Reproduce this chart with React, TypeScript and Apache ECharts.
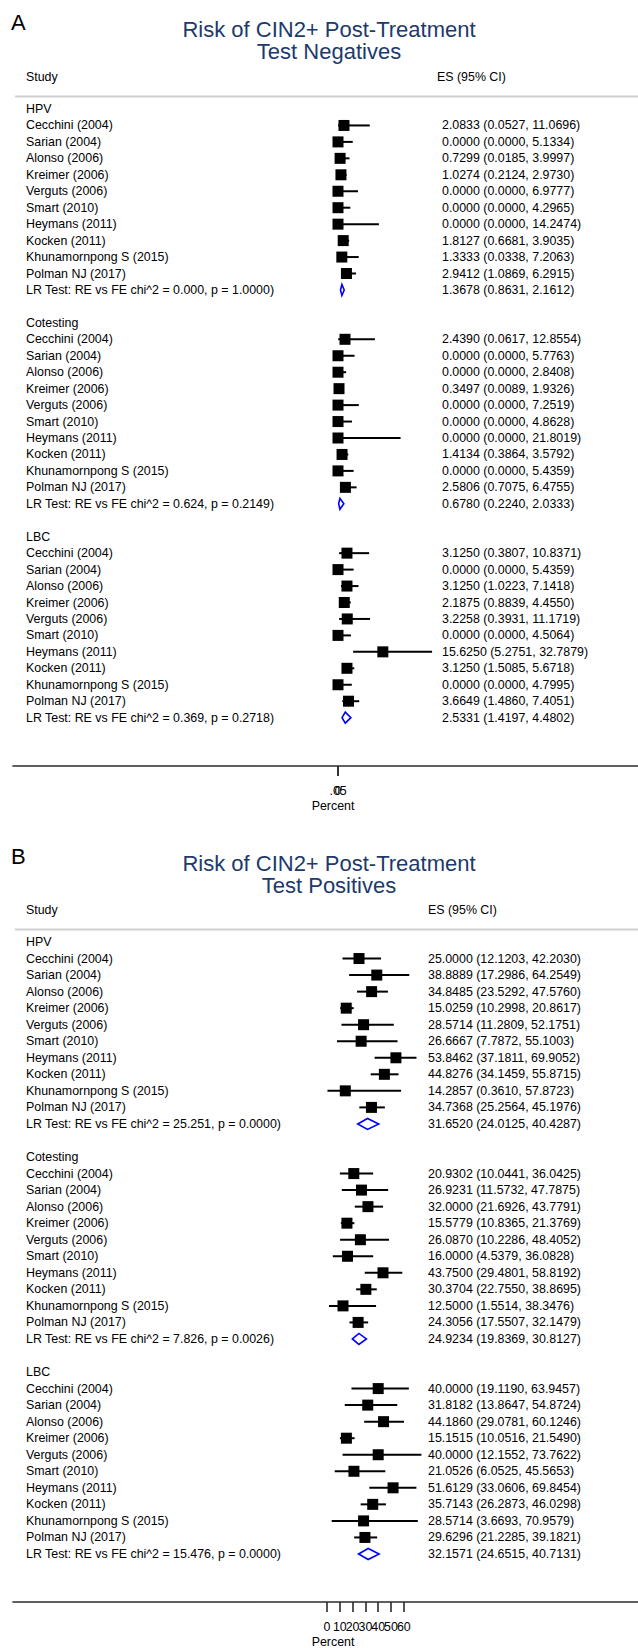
import { useEffect, useRef } from "react";
import * as echarts from "echarts";

const groups = ["HPV", "Cotesting", "LBC"];
const studies = [
  "Cecchini (2004)",
  "Sarian (2004)",
  "Alonso (2006)",
  "Kreimer (2006)",
  "Verguts (2006)",
  "Smart (2010)",
  "Heymans (2011)",
  "Kocken (2011)",
  "Khunamornpong S (2015)",
  "Polman NJ (2017)",
];

// Panel A: test negatives  [ES, lower, upper]
const negHpv = [
  [2.0833, 0.0527, 11.0696], [0.0, 0.0, 5.1334], [0.7299, 0.0185, 3.9997], [1.0274, 0.2124, 2.973],
  [0.0, 0.0, 6.9777], [0.0, 0.0, 4.2965], [0.0, 0.0, 14.2474], [1.8127, 0.6681, 3.9035],
  [1.3333, 0.0338, 7.2063], [2.9412, 1.0869, 6.2915],
];
const negCotesting = [
  [2.439, 0.0617, 12.8554], [0.0, 0.0, 5.7763], [0.0, 0.0, 2.8408], [0.3497, 0.0089, 1.9326],
  [0.0, 0.0, 7.2519], [0.0, 0.0, 4.8628], [0.0, 0.0, 21.8019], [1.4134, 0.3864, 3.5792],
  [0.0, 0.0, 5.4359], [2.5806, 0.7075, 6.4755],
];
const negLbc = [
  [3.125, 0.3807, 10.8371], [0.0, 0.0, 5.4359], [3.125, 1.0223, 7.1418], [2.1875, 0.8839, 4.455],
  [3.2258, 0.3931, 11.1719], [0.0, 0.0, 4.5064], [15.625, 5.2751, 32.7879], [3.125, 1.5085, 5.6718],
  [0.0, 0.0, 4.7995], [3.6649, 1.486, 7.4051],
];
const negPooled = [
  [1.3678, 0.8631, 2.1612],
  [0.678, 0.224, 2.0333],
  [2.5331, 1.4197, 4.4802],
];
const negLR = [
  "LR Test: RE vs FE chi^2 = 0.000, p = 1.0000)",
  "LR Test: RE vs FE chi^2 = 0.624, p = 0.2149)",
  "LR Test: RE vs FE chi^2 = 0.369, p = 0.2718)",
];

// Panel B: test positives
const posHpv = [
  [25.0, 12.1203, 42.203], [38.8889, 17.2986, 64.2549], [34.8485, 23.5292, 47.576], [15.0259, 10.2998, 20.8617],
  [28.5714, 11.2809, 52.1751], [26.6667, 7.7872, 55.1003], [53.8462, 37.1811, 69.9052], [44.8276, 34.1459, 55.8715],
  [14.2857, 0.361, 57.8723], [34.7368, 25.2564, 45.1976],
];
const posCotesting = [
  [20.9302, 10.0441, 36.0425], [26.9231, 11.5732, 47.7875], [32.0, 21.6926, 43.7791], [15.5779, 10.8365, 21.3769],
  [26.087, 10.2286, 48.4052], [16.0, 4.5379, 36.0828], [43.75, 29.4801, 58.8192], [30.3704, 22.755, 38.8695],
  [12.5, 1.5514, 38.3476], [24.3056, 17.5507, 32.1479],
];
const posLbc = [
  [40.0, 19.119, 63.9457], [31.8182, 13.8647, 54.8724], [44.186, 29.0781, 60.1246], [15.1515, 10.0516, 21.549],
  [40.0, 12.1552, 73.7622], [21.0526, 6.0525, 45.5653], [51.6129, 33.0606, 69.8454], [35.7143, 26.2873, 46.0298],
  [28.5714, 3.6693, 70.9579], [29.6296, 21.2285, 39.1821],
];
const posPooled = [
  [31.652, 24.0125, 40.4287],
  [24.9234, 19.8369, 30.8127],
  [32.1571, 24.6515, 40.7131],
];
const posLR = [
  "LR Test: RE vs FE chi^2 = 25.251, p = 0.0000)",
  "LR Test: RE vs FE chi^2 = 7.826, p = 0.0026)",
  "LR Test: RE vs FE chi^2 = 15.476, p = 0.0000)",
];

const negTicks = [0, 0.05];
const posTicks = [0, 10, 20, 30, 40, 50, 60];

const titlesA = ["Risk of CIN2+ Post-Treatment", "Test Negatives"];
const titlesB = ["Risk of CIN2+ Post-Treatment", "Test Positives"];

// ---------- layout / style ----------
const W = 638;
const H = 1648;
const GRID_L = 13;
const FONT = "Liberation Sans, Arial, Helvetica, sans-serif";
const FS = 12.4;
const NAVY = "#1d3a6c";
const BOX = 11;
const DIA_H = 5.5;

const fmt = (r: number[]) =>
  `${r[0].toFixed(4)} (${r[1].toFixed(4)}, ${r[2].toFixed(4)})`;
const tickText = (v: number) => (v === 0 ? "0" : String(v).replace(/^0\./, "."));

type Panel = {
  first: number;
  row: number;
  axisY: number;
  zero: number;
  ppu: number;
  esX: number;
  esHeadX: number;
  titleY: number;
  letter: string;
  titles: string[];
  groupsData: number[][][];
  pooled: number[][];
  lr: string[];
  ticks: number[];
};

const panels: Panel[] = [
  {
    first: 109, row: 16.45, axisY: 766, zero: 338, ppu: 2.87, esX: 442, esHeadX: 437, titleY: 29,
    letter: "A", titles: titlesA, groupsData: [negHpv, negCotesting, negLbc],
    pooled: negPooled, lr: negLR, ticks: negTicks,
  },
  {
    first: 942, row: 16.54, axisY: 1602, zero: 327, ppu: 1.28, esX: 428, esHeadX: 428, titleY: 863,
    letter: "B", titles: titlesB, groupsData: [posHpv, posCotesting, posLbc],
    pooled: posPooled, lr: posLR, ticks: posTicks,
  },
];

function buildOption() {
  const grid: any[] = [];
  const xAxis: any[] = [];
  const yAxis: any[] = [];
  const series: any[] = [];
  const graphic: any[] = [];

  panels.forEach((p, pi) => {
    const top = p.first - p.row;
    const yMax = (p.axisY - p.first) / p.row;
    grid.push({ left: GRID_L, width: W - GRID_L, top, height: p.axisY - top });
    xAxis.push({
      type: "value",
      gridIndex: pi,
      min: (GRID_L - p.zero) / p.ppu,
      max: (W - p.zero) / p.ppu,
      splitLine: { show: false },
      axisLine: { show: true, onZero: false, lineStyle: { color: "#2b2b2b", width: 1.6 } },
      axisTick: { show: true, customValues: p.ticks, length: 10, lineStyle: { color: "#2b2b2b", width: 1.6 } },
      axisLabel: { show: false },
    });
    yAxis.push({
      type: "value",
      gridIndex: pi,
      inverse: true,
      min: -1,
      max: yMax,
      show: false,
    });

    const ciData: number[][] = [];
    const diaData: number[][] = [];
    const texts: { row: number; left: string; right: string }[] = [];
    p.groupsData.forEach((g, gi) => {
      const base = gi * 13;
      texts.push({ row: base, left: groups[gi], right: "" });
      g.forEach((r, si) => {
        ciData.push([r[0], r[1], r[2], base + 1 + si]);
        texts.push({ row: base + 1 + si, left: studies[si], right: fmt(r) });
      });
      diaData.push([p.pooled[gi][0], p.pooled[gi][1], p.pooled[gi][2], base + 11]);
      texts.push({ row: base + 11, left: p.lr[gi], right: fmt(p.pooled[gi]) });
    });

    series.push({
      type: "custom",
      xAxisIndex: pi,
      yAxisIndex: pi,
      silent: true,
      encode: { x: [0, 1, 2], y: 3 },
      data: ciData,
      renderItem: (_params: any, api: any) => {
        const es = api.value(0), lo = api.value(1), hi = api.value(2), row = api.value(3);
        const a = api.coord([lo, row]);
        const b = api.coord([hi, row]);
        const c = api.coord([es, row]);
        return {
          type: "group",
          children: [
            { type: "line", shape: { x1: a[0], y1: a[1], x2: b[0], y2: b[1] }, style: { stroke: "#000", lineWidth: 2 } },
            { type: "rect", shape: { x: c[0] - BOX / 2, y: c[1] - BOX / 2, width: BOX, height: BOX }, style: { fill: "#000" } },
          ],
        };
      },
    });

    series.push({
      type: "custom",
      xAxisIndex: pi,
      yAxisIndex: pi,
      silent: true,
      encode: { x: [0, 1, 2], y: 3 },
      data: diaData,
      renderItem: (_params: any, api: any) => {
        const es = api.value(0), lo = api.value(1), hi = api.value(2), row = api.value(3);
        const a = api.coord([lo, row]);
        const b = api.coord([hi, row]);
        const c = api.coord([es, row]);
        return {
          type: "polygon",
          shape: { points: [[a[0], c[1]], [c[0], c[1] - DIA_H], [b[0], c[1]], [c[0], c[1] + DIA_H]] },
          style: { fill: "none", stroke: "#0000ff", lineWidth: 1.6 },
        };
      },
    });

    series.push({
      type: "custom",
      xAxisIndex: pi,
      yAxisIndex: pi,
      silent: true,
      encode: { x: 0, y: 1 },
      data: texts.map((t) => [0, t.row]),
      renderItem: (params: any, api: any) => {
        const t = texts[params.dataIndex];
        const y = api.coord([0, api.value(1)])[1];
        return {
          type: "group",
          children: [
            { type: "text", style: { text: t.left, x: 26, y, fill: "#000", fontFamily: FONT, fontSize: FS, align: "left", verticalAlign: "middle" } },
            { type: "text", style: { text: t.right, x: p.esX, y, fill: "#000", fontFamily: FONT, fontSize: FS, align: "left", verticalAlign: "middle" } },
          ],
        };
      },
    });

    // tick labels (drawn through the axis scale, allowed to overlap as in the original)
    series.push({
      type: "custom",
      xAxisIndex: pi,
      yAxisIndex: pi,
      silent: true,
      clip: false,
      encode: { x: 0, y: 1 },
      data: p.ticks.map((v) => [v, yMax]),
      renderItem: (params: any, api: any) => {
        const c = api.coord([api.value(0), api.value(1)]);
        return {
          type: "text",
          style: {
            text: tickText(p.ticks[params.dataIndex]),
            x: c[0],
            y: c[1] + 25,
            fill: "#000",
            fontFamily: FONT,
            fontSize: FS,
            align: "center",
            verticalAlign: "middle",
          },
        };
      },
    });

    // decorations
    const headY = p.first - 32;
    const lineY = p.first - 12.5;
    graphic.push(
      { type: "text", left: 11, top: p.titleY - 18, style: { text: p.letter, fill: "#000", fontFamily: FONT, fontSize: 22 } },
      { type: "text", x: 329, y: p.titleY, style: { text: p.titles[0], fill: NAVY, fontFamily: FONT, fontSize: 22, align: "center", verticalAlign: "middle" } },
      { type: "text", x: 329, y: p.titleY + 22, style: { text: p.titles[1], fill: NAVY, fontFamily: FONT, fontSize: 22, align: "center", verticalAlign: "middle" } },
      { type: "text", x: 26, y: headY, style: { text: "Study", fill: "#000", fontFamily: FONT, fontSize: FS, align: "left", verticalAlign: "middle" } },
      { type: "text", x: p.esHeadX, y: headY, style: { text: "ES (95% CI)", fill: "#000", fontFamily: FONT, fontSize: FS, align: "left", verticalAlign: "middle" } },
      { type: "line", shape: { x1: 15, y1: lineY, x2: W, y2: lineY }, style: { stroke: "#cfcfcf", lineWidth: 2 } },
      { type: "text", x: 333, y: p.axisY + 40, style: { text: "Percent", fill: "#000", fontFamily: FONT, fontSize: FS, align: "center", verticalAlign: "middle" } }
    );
  });

  return {
    animation: false,
    backgroundColor: "#fff",
    grid,
    xAxis,
    yAxis,
    series,
    graphic,
  };
}

export default function App() {
  const ref = useRef<HTMLDivElement>(null);
  useEffect(() => {
    document.body.style.margin = "0";
    if (!ref.current) return;
    const chart = echarts.init(ref.current, undefined, { renderer: "svg" });
    chart.setOption(buildOption() as any);
    return () => chart.dispose();
  }, []);
  return <div ref={ref} style={{ width: W, height: H }} />;
}
